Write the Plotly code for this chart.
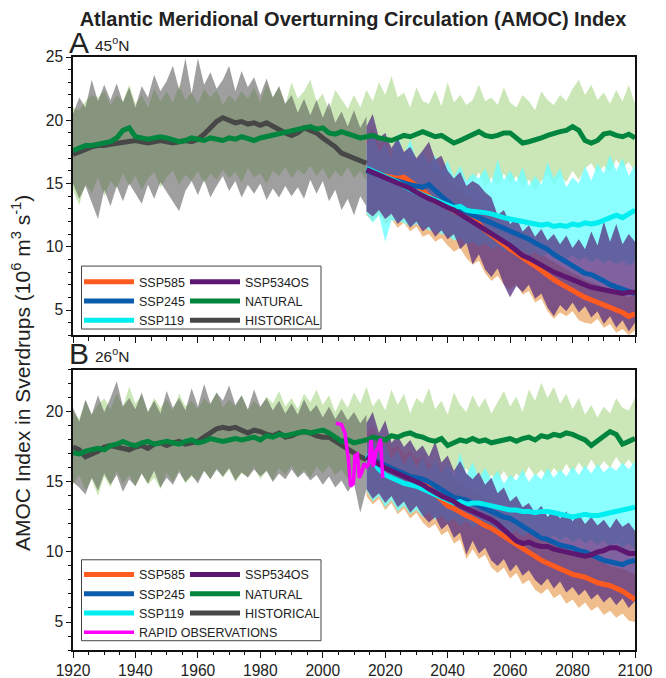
import plotly.graph_objects as go

# ---------------- years ----------------
nat_years = list(range(1920, 2101, 2))
hist_years = list(range(1920, 2015, 2))
ssp_years = list(range(2014, 2101, 2))

# ================= PANEL A (45N) =================
A_nat = [17.6, 17.8, 18.0, 18.0, 18.1, 18.1, 18.3, 18.6, 19.2, 19.4,
         18.7, 18.6, 18.5, 18.6, 18.7, 18.6, 18.4, 18.3, 18.4, 18.6,
         18.5, 18.4, 18.6, 18.5, 18.4, 18.6, 18.5, 18.7, 18.6, 18.4,
         18.6, 18.7, 18.8, 18.9, 19.1, 19.2, 19.3, 19.4, 19.5, 19.3,
         19.4, 19.0, 18.9, 19.1, 18.9, 18.7, 18.6, 18.7, 18.8, 18.6,
         18.5, 18.4, 18.6, 18.8, 18.7, 18.9, 19.1, 18.9, 18.7, 18.8,
         18.5, 18.2, 18.4, 18.6, 18.8, 19.1, 18.8, 18.7, 18.8, 19.0,
         19.0, 18.6, 18.2, 18.3, 18.4, 18.6, 18.8, 19.0, 19.1, 19.2,
         19.5, 19.2, 18.4, 18.2, 18.4, 18.9, 19.0, 18.8, 18.7, 18.9,
         18.6]
A_nat_hi = [21.0, 20.8, 21.5, 22.0, 21.8, 22.3, 21.2, 22.0, 21.5, 22.8,
            21.3, 22.0, 21.0, 22.5, 21.5, 22.3, 21.4, 22.8, 21.6, 22.2,
            21.3, 22.5, 21.8, 22.4, 21.2, 22.0, 21.5, 22.3, 21.7, 22.6,
            21.4, 22.9, 21.8, 22.6, 21.2, 23.0, 21.7, 22.3, 23.2, 21.5,
            22.1, 20.8, 22.4, 21.6, 20.9, 22.0, 21.0, 22.4, 21.5, 23.0,
            22.0, 23.5, 21.8, 22.2, 21.0, 22.6, 21.5, 21.3, 22.4, 21.1,
            23.0, 21.4, 22.0, 21.2, 21.6, 22.8, 21.5, 21.8, 21.2, 22.6,
            21.4, 21.0, 22.0, 21.5, 20.8, 22.3, 21.6, 21.2, 22.0, 21.5,
            22.5, 23.2, 22.0, 22.8, 21.6, 22.2, 21.3, 22.4, 21.5, 22.8,
            21.3]
A_nat_lo = [14.5, 13.3, 15.0, 14.2, 15.5, 14.0, 15.2, 14.6, 15.8, 14.8,
            15.6, 14.5, 15.4, 15.9, 14.7, 15.5, 16.0, 14.9, 15.7, 15.2,
            16.0, 15.0, 15.8, 15.3, 16.1, 15.4, 15.9, 15.1, 16.2, 15.5,
            15.8, 15.0, 16.0, 15.6, 16.3, 15.4, 16.1, 15.7, 16.4, 15.6,
            16.2, 15.3, 16.0, 15.5, 16.3, 15.4, 16.0, 15.2, 16.5, 15.6,
            16.2, 15.4, 16.4, 15.3, 15.9, 15.0, 16.1, 15.4, 15.8, 14.8,
            15.7, 14.9, 15.6, 15.2, 15.0, 15.9, 14.6, 15.5, 14.8, 15.8,
            15.0, 15.6, 14.7, 15.3, 14.4, 15.2, 15.7, 14.9, 15.6, 15.1,
            16.0, 15.3, 16.2, 16.6, 15.8, 16.4, 15.9, 16.9, 16.2, 16.7,
            15.9]
A_hist = [17.3, 17.5, 17.8, 17.9, 18.0, 18.0, 18.1, 18.2, 18.3, 18.3,
          18.4, 18.3, 18.2, 18.3, 18.4, 18.3, 18.2, 18.3, 18.4, 18.3,
          18.5, 18.9, 19.4, 19.9, 20.2, 20.0, 19.8, 19.9, 19.7, 19.8,
          19.6, 19.8, 19.5, 19.2, 19.0, 18.8, 19.0, 19.4, 19.2, 19.0,
          18.6, 18.3, 17.9, 17.4, 17.2, 16.9, 16.7, 16.6]
A_hist_hi = [20.5, 21.8, 21.0, 23.2, 21.5, 22.8, 21.6, 22.9, 21.4, 22.6,
             21.0, 22.7, 21.8, 23.6, 22.3, 23.1, 24.3, 22.4, 24.9, 22.1,
             24.9, 22.8, 23.8, 22.5, 23.2, 24.3, 22.3, 23.9, 22.6, 23.4,
             22.0, 23.3, 21.8, 22.7, 21.3, 22.0, 20.6, 21.7, 20.4, 21.6,
             20.2, 21.4, 19.8, 20.7, 19.5, 20.8, 19.4, 20.3]
A_hist_lo = [15.0, 13.8, 14.8, 13.5, 12.2, 14.5, 13.2, 14.8, 13.6, 15.0,
             14.2, 13.4, 14.9, 13.8, 15.1, 14.3, 13.6, 12.8, 14.4, 15.2,
             14.1, 15.3, 13.9, 14.8, 15.6, 14.4, 15.2, 13.9, 14.9, 14.2,
             15.0, 13.7, 14.6, 13.9, 14.8, 14.0, 14.7, 13.8, 15.3, 14.2,
             15.2, 13.6, 14.5, 12.9, 13.8, 12.5, 14.0, 13.2]
A_585 = [16.0, 15.9, 15.7, 15.6, 15.5, 15.4, 15.5, 15.2, 14.8, 14.5,
         14.0, 13.6, 13.4, 13.1, 12.9, 12.6, 12.4, 12.1, 11.8, 11.3,
         10.9, 10.5, 10.1, 9.8, 9.5, 9.1, 8.8, 8.5, 8.1, 7.7,
         7.4, 7.1, 6.8, 6.6, 6.3, 6.0, 5.8, 5.6, 5.4, 5.3,
         5.0, 4.8, 4.5, 4.7]
A_245 = [16.0, 15.8, 15.7, 15.5, 15.3, 15.2, 15.0, 14.9, 14.8, 14.7,
         14.9, 14.4, 14.0, 13.6, 13.2, 13.0, 12.7, 12.5, 12.3, 12.1,
         11.9, 11.7, 11.5, 11.3, 11.1, 10.8, 10.6, 10.3, 10.1, 9.8,
         9.4, 9.1, 8.8, 8.4, 8.1, 7.9, 7.8, 7.6, 7.3, 7.0,
         6.8, 6.6, 6.4, 6.3]
A_534 = [16.1, 15.9, 15.7, 15.5, 15.3, 15.1, 14.8, 14.6, 14.3, 14.0,
         13.8, 13.6, 13.3, 13.1, 12.9, 12.6, 12.3, 12.0, 11.7, 11.4,
         11.1, 10.8, 10.4, 10.1, 9.7, 9.3, 9.1, 8.8, 8.5, 8.3,
         8.0, 7.8, 7.6, 7.3, 7.1, 7.0, 6.8, 6.7, 6.6, 6.5,
         6.4, 6.3, 6.4, 6.4]
A_119 = [16.2, 16.0, 15.8, 15.6, 15.3, 15.1, 14.8, 14.5, 14.3, 14.1,
         13.9, 13.7, 13.5, 13.3, 13.1, 13.2, 12.9, 12.8, 12.7, 12.7,
         12.6, 12.4, 12.3, 12.2, 12.1, 11.9, 11.9, 11.8, 11.7, 11.8,
         11.6, 11.7, 11.6, 11.8, 11.7, 11.9, 11.8, 11.9, 12.1, 12.3,
         12.5, 12.3, 12.6, 12.9]
A_pur_hi = [19.5, 20.5, 18.6, 19.0, 17.8, 18.6, 17.5, 17.9, 17.0, 17.6,
            18.3, 16.9, 17.2, 16.0, 15.4, 15.9, 14.8, 15.2, 14.9, 14.3,
            13.9, 12.5, 12.9, 11.8, 12.3, 11.2, 11.7, 10.8, 11.4, 10.5,
            11.0, 10.2, 10.9, 9.9, 10.6, 9.8, 11.2, 10.1, 12.0, 10.4,
            11.8, 10.2, 11.0, 10.4]
A_pur_lo = [12.8, 12.4, 12.9, 12.2, 12.6, 11.8, 12.3, 11.5, 12.0, 11.2,
            11.6, 10.8, 11.3, 10.6, 11.0, 9.8, 10.3, 8.6, 9.4, 8.2,
            7.6, 8.3, 7.0, 6.0, 6.9, 6.4, 7.0, 5.9, 6.3, 5.2,
            4.5, 5.4, 4.9, 5.6, 4.8, 5.3, 4.4, 4.9, 3.9, 4.5,
            3.6, 4.2, 3.3, 4.0]
A_tan_hi = [18.5, 19.5, 18.0, 18.4, 17.2, 17.8, 16.9, 17.2, 16.5, 16.8,
            16.2, 16.0, 15.7, 15.2, 14.8, 14.5, 14.1, 13.8, 13.5, 13.0,
            12.6, 12.1, 11.7, 11.3, 10.9, 10.5, 10.2, 9.8, 9.5, 9.1,
            8.8, 8.5, 8.2, 7.9, 7.7, 7.4, 7.2, 7.0, 6.8, 6.6,
            6.4, 6.2, 6.0, 6.2]
A_tan_lo = [12.5, 12.0, 12.6, 11.8, 12.2, 11.5, 11.9, 11.2, 11.6, 10.8,
            11.0, 10.4, 10.7, 10.1, 9.6, 9.9, 9.1, 8.6, 8.9, 7.9,
            7.3, 7.7, 7.0, 6.6, 7.1, 6.2, 6.5, 5.6, 5.9, 4.9,
            4.3, 4.8, 4.5, 4.9, 4.2, 4.0, 3.9, 4.3, 3.6, 3.9,
            3.2, 3.5, 3.0, 3.4]
A_cyan_hi = [18.0, 19.2, 17.5, 18.2, 17.0, 19.0, 17.2, 18.5, 16.8, 17.5,
             16.5, 17.2, 16.0, 16.8, 15.5, 16.4, 15.2, 15.8, 15.4, 16.2,
             15.0, 16.9, 15.3, 16.0, 15.1, 16.3, 14.8, 15.6, 14.9, 16.7,
             15.4, 16.2, 14.7, 15.5, 15.0, 16.4, 15.2, 16.6, 15.8, 17.3,
             16.0, 17.0, 15.6, 16.5]
A_cyan_lo = [12.6, 11.9, 12.5, 10.4, 12.1, 12.0, 11.9, 11.6, 11.8, 11.5,
             11.3, 11.2, 11.0, 10.9, 10.5, 10.7, 10.2, 10.4, 10.0, 10.3,
             9.8, 10.1, 9.6, 9.9, 9.4, 9.7, 9.3, 9.6, 9.2, 9.5,
             9.1, 9.4, 9.0, 9.3, 8.9, 9.2, 8.8, 9.1, 8.7, 9.0,
             8.6, 8.9, 8.5, 8.8]

# ================= PANEL B (26N) =================
B_nat = [17.1, 17.0, 17.2, 17.3, 17.4, 17.3, 17.6, 17.7, 17.9, 17.7,
         17.6, 17.8, 17.9, 17.7, 17.8, 17.9, 17.8, 17.7, 17.9, 18.0,
         17.8, 17.9, 18.1, 18.0, 17.9, 18.0, 18.1, 18.0, 18.1, 18.2,
         18.0, 18.3, 18.2, 18.4, 18.3, 18.4, 18.5, 18.6, 18.5, 18.6,
         18.7, 18.5, 18.2, 17.9, 18.0, 17.8, 17.9, 18.0, 18.2, 18.1,
         18.0, 18.3, 18.2, 18.4, 18.5, 18.3, 18.2, 18.0, 17.9, 18.1,
         17.6, 17.8, 18.0, 17.9, 18.1, 17.9, 18.0, 17.8, 17.9, 18.0,
         18.1, 17.9, 18.1, 18.2, 18.0, 18.3, 18.2, 18.4, 18.3, 18.5,
         18.4, 18.2, 18.0, 17.6, 17.9, 18.2, 18.6, 18.4, 17.7, 17.9,
         18.1]
B_nat_hi = [20.0, 19.5, 20.8, 19.8, 20.5, 21.0, 20.2, 21.3, 20.4, 21.8,
            20.6, 21.2, 20.0, 21.0, 20.3, 20.9, 20.1, 21.3, 20.4, 20.8,
            20.2, 21.0, 20.5, 21.4, 20.3, 20.9, 20.4, 21.2, 20.1, 20.8,
            20.3, 21.1, 20.6, 21.5, 20.4, 21.0, 20.2, 21.3, 20.7, 21.6,
            20.5, 21.2, 20.0, 21.0, 20.3, 21.4, 20.6, 21.8, 20.4, 21.0,
            20.1, 21.6, 20.5, 21.3, 19.9, 21.0, 20.6, 21.7, 20.2, 20.8,
            19.8, 21.4, 20.5, 20.0, 21.2, 20.3, 21.0, 19.9, 20.7, 21.5,
            20.4, 21.1, 20.0, 21.6, 20.8, 22.1, 21.0, 21.8, 20.6, 21.3,
            20.2, 21.0, 19.8, 20.5, 19.6, 20.4, 19.9, 21.0, 20.3, 20.1,
            21.0]
B_nat_lo = [14.8, 15.5, 14.4, 15.2, 14.0, 15.4, 14.6, 15.8, 14.9, 15.5,
            14.7, 15.6, 14.8, 15.3, 14.5, 15.7, 15.0, 15.9, 14.9, 15.4,
            15.1, 15.8, 15.2, 16.0, 15.3, 15.9, 15.0, 15.6, 15.4, 16.1,
            15.2, 15.8, 15.1, 16.0, 15.5, 16.2, 15.4, 15.9, 15.3, 16.1,
            15.6, 16.2, 15.5, 15.9, 15.2, 15.8, 15.4, 16.0, 15.6, 16.2,
            15.5, 16.0, 15.3, 15.8, 15.1, 15.9, 15.4, 16.1, 15.2, 15.7,
            15.0, 15.8, 15.3, 16.0, 15.2, 15.6, 14.9, 15.5, 15.1, 15.8,
            15.0, 15.6, 15.2, 16.1, 15.4, 15.9, 15.3, 16.0, 15.5, 16.3,
            15.6, 16.4, 15.8, 16.6, 15.9, 16.5, 16.0, 16.8, 16.1, 16.6,
            16.0]
B_hist = [17.5, 17.3, 16.8, 17.0, 17.2, 17.5, 17.6, 17.5, 17.4, 17.3,
          17.5, 17.6, 17.4, 17.7, 17.8, 17.6, 17.8, 17.9, 17.7, 17.8,
          17.9, 18.2, 18.5, 18.8, 18.9, 18.8, 18.9, 18.7, 18.5, 18.7,
          18.6, 18.4, 18.3, 18.5, 18.2, 18.3, 18.5, 18.6, 18.5, 18.3,
          18.2, 18.2, 17.9, 17.6, 17.3, 17.0, 16.8, 16.6]
B_hist_hi = [20.3, 19.3, 20.9, 19.8, 21.2, 20.0, 21.0, 22.2, 20.4, 21.0,
             20.2, 21.4, 20.0, 20.8, 19.9, 21.5, 20.3, 21.0, 20.1, 21.7,
             20.4, 22.0, 20.6, 21.4, 20.8, 21.9, 20.5, 21.2, 20.2, 21.6,
             20.4, 21.0, 20.1, 20.8, 19.9, 20.6, 19.8, 20.9, 20.0, 20.5,
             19.6, 20.4, 19.5, 20.2, 19.4, 20.0, 19.2, 19.8]
B_hist_lo = [15.0, 14.6, 14.1, 15.3, 14.4, 15.6, 14.8, 15.5, 14.3, 15.2,
             14.7, 15.6, 14.9, 15.8, 14.6, 15.3, 14.8, 15.7, 15.0, 15.5,
             14.9, 15.8, 15.2, 15.9, 15.4, 16.0, 15.1, 15.7, 15.3, 15.9,
             15.4, 15.8, 15.0, 15.6, 15.2, 15.9, 15.3, 15.7, 15.1, 15.5,
             14.8, 15.4, 14.6, 15.1, 14.3, 14.9, 12.8, 14.5]
B_585 = [16.8, 16.6, 16.4, 16.2, 16.0, 15.8, 15.6, 15.4, 15.1, 14.9,
         14.6, 14.2, 13.8, 13.3, 13.1, 12.8, 12.6, 12.4, 12.1, 11.9,
         11.7, 11.4, 11.1, 10.8, 10.5, 10.3, 10.0, 9.7, 9.4, 9.2,
         9.0, 8.8, 8.6, 8.4, 8.3, 8.2, 8.0, 7.8, 7.7, 7.6,
         7.4, 7.2, 6.9, 6.6]
B_245 = [16.8, 16.6, 16.4, 16.2, 16.0, 15.8, 15.6, 15.4, 15.3, 15.2,
         15.0, 14.7, 14.4, 14.1, 13.9, 13.8, 13.7, 13.5, 13.3, 13.1,
         12.9, 12.7, 12.5, 12.4, 12.1, 11.8, 11.5, 11.2, 11.0, 10.9,
         10.7, 10.5, 10.4, 10.3, 10.1, 10.0, 9.8, 9.6, 9.4, 9.3,
         9.2, 9.1, 9.3, 9.4]
B_534 = [16.8, 16.5, 16.3, 16.0, 15.8, 15.6, 15.4, 15.2, 15.0, 14.8,
         14.5, 14.2, 14.0, 13.8, 13.6, 13.3, 13.1, 12.9, 12.7, 12.5,
         12.3, 12.0, 11.6, 11.2, 10.8, 10.6, 10.7, 10.5, 10.4, 10.4,
         10.2, 10.1, 10.0, 9.9, 9.8, 9.7, 9.8, 10.0, 10.1, 10.3,
         10.3, 10.1, 9.9, 9.9]
B_119 = [16.9, 16.5, 15.9, 15.5, 15.3, 15.1, 14.9, 14.8, 14.7, 14.5,
         14.3, 14.1, 13.9, 13.7, 13.5, 13.6, 13.4, 13.5, 13.5, 13.4,
         13.3, 13.2, 13.1, 13.0, 13.0, 12.9, 12.9, 12.8, 12.9, 12.9,
         12.8, 12.7, 12.6, 12.5, 12.6, 12.7, 12.6, 12.6, 12.7, 12.8,
         12.9, 13.0, 13.1, 13.2]
B_pur_hi = [19.2, 20.0, 18.5, 19.4, 17.8, 18.3, 17.5, 18.0, 17.2, 17.6,
            16.8, 17.9, 16.4, 16.9, 15.8, 16.5, 15.6, 15.2, 15.7, 14.8,
            15.3, 14.2, 14.6, 13.6, 14.0, 13.2, 13.5, 12.8, 13.3, 12.5,
            13.0, 12.4, 12.9, 12.2, 12.7, 12.0, 12.5, 11.9, 12.3, 11.7,
            12.4, 11.8, 12.1, 11.5]
B_pur_lo = [14.5, 13.8, 14.2, 13.5, 14.0, 13.2, 13.6, 12.8, 13.3, 12.6,
            12.1, 12.5, 11.6, 12.0, 11.0, 11.4, 9.8, 10.8, 9.9, 10.3,
            9.4, 9.0, 9.5, 8.6, 9.1, 8.3, 8.7, 8.0, 7.6, 8.1,
            7.4, 7.9, 7.1, 7.5, 6.9, 7.3, 6.6, 7.0, 6.4, 6.8,
            6.2, 6.7, 6.0, 6.5]
B_tan_hi = [18.5, 19.0, 18.0, 18.3, 17.4, 17.6, 17.0, 17.2, 16.6, 16.8,
            16.2, 16.4, 15.8, 15.6, 15.2, 15.0, 14.6, 14.3, 14.0, 13.7,
            13.4, 13.0, 12.7, 12.4, 12.1, 11.8, 11.5, 11.2, 11.0, 10.8,
            10.6, 10.4, 10.2, 10.0, 9.9, 9.8, 9.6, 9.4, 9.2, 9.0,
            8.9, 8.8, 8.6, 8.4]
B_tan_lo = [14.0, 13.4, 13.8, 13.0, 13.5, 12.7, 13.1, 12.4, 12.8, 12.1,
            11.7, 12.0, 11.2, 11.5, 10.6, 10.9, 9.5, 10.2, 9.5, 9.8,
            8.9, 8.5, 8.9, 8.1, 8.5, 7.7, 8.0, 7.3, 7.0, 7.4,
            6.7, 7.0, 6.3, 6.6, 6.0, 6.4, 5.8, 6.1, 5.5, 5.8,
            5.3, 5.6, 5.1, 5.0]
B_cyan_hi = [17.6, 18.2, 17.0, 17.8, 16.6, 17.3, 16.2, 17.0, 16.0, 16.8,
             15.8, 16.6, 15.6, 16.3, 15.4, 17.1, 15.5, 16.4, 15.3, 16.0,
             15.2, 15.8, 14.9, 15.5, 15.1, 15.9, 15.0, 15.6, 15.2, 16.0,
             15.3, 15.9, 15.4, 16.1, 15.5, 16.2, 15.6, 16.3, 15.7, 16.1,
             15.8, 16.4, 15.9, 16.5]
B_cyan_lo = [14.4, 13.6, 14.0, 13.2, 13.7, 12.9, 13.3, 12.7, 13.0, 12.5,
             12.8, 12.3, 12.6, 12.1, 12.4, 11.9, 12.2, 11.7, 12.0, 11.6,
             11.8, 11.4, 11.7, 11.3, 11.5, 11.1, 11.4, 11.0, 11.3, 10.9,
             11.2, 10.8, 11.1, 10.7, 11.0, 10.6, 10.9, 10.5, 10.8, 10.4,
             10.7, 10.3, 10.6, 10.2]

rapid_years = [2004.2, 2006.0, 2007.1, 2008.2, 2008.9, 2009.8, 2010.3, 2011.1, 2011.7, 2012.5,
               2013.2, 2014.1, 2014.9, 2015.4, 2016.2, 2017.0, 2017.9, 2018.5, 2019.2]
rapid_vals = [19.2, 19.1, 18.5, 16.6, 14.7, 14.9, 16.9, 17.0, 15.3, 15.7,
              16.3, 16.1, 16.4, 18.0, 16.1, 17.2, 17.5, 18.1, 15.3]

# ---------------- styles ----------------
FONT = "Liberation Sans, Arial, sans-serif"
C_NATB = "#CBE6B7"
C_HISTB = "rgba(80,80,80,0.55)"
C_TANB = "#F0BE8C"
C_CYANB = "rgba(110,255,255,0.8)"
C_PURB = "rgba(85,45,130,0.75)"
C585 = "#FF5A1F"
C245 = "#0B5CAD"
C119 = "#00EEF0"
C534 = "#5E1770"
CNAT = "#00853E"
CHIST = "#474747"
CRAPID = "#FF00FF"
LW = 5

# The page body has an 8px margin, so the figure is drawn 8px in from the
# window edge; all positions below are given in window pixels and shifted.
OFF = 8
W, H = 650, 670
X_L, X_R = 73, 635          # plot area left/right (window px)
Y_T, Y_B = 56.7, 650.3      # plot area top/bottom (window px)
PW, PH = X_R - X_L, Y_B - Y_T

fig = go.Figure()


def band(x, lo, hi, color, xa, ya):
    fig.add_trace(go.Scatter(x=x + x[::-1], y=hi + lo[::-1], fill="toself",
                             fillcolor=color, line=dict(width=0), mode="lines",
                             hoverinfo="skip", showlegend=False, xaxis=xa, yaxis=ya))


def line(x, y, color, name, xa, ya, leg, rank, show, width=LW):
    fig.add_trace(go.Scatter(x=x, y=y, mode="lines", name=name,
                             line=dict(color=color, width=width),
                             legend=leg, legendrank=rank, showlegend=show,
                             xaxis=xa, yaxis=ya))


panels = [
    ("x2", "y2", "legend", "legend2", dict(nat=A_nat, nat_hi=A_nat_hi, nat_lo=A_nat_lo,
        hist=A_hist, hist_hi=A_hist_hi, hist_lo=A_hist_lo, s585=A_585, s245=A_245,
        s534=A_534, s119=A_119, pur_hi=A_pur_hi, pur_lo=A_pur_lo, tan_hi=A_tan_hi,
        tan_lo=A_tan_lo, cy_hi=A_cyan_hi, cy_lo=A_cyan_lo)),
    ("x", "y", "legend3", "legend4", dict(nat=B_nat, nat_hi=B_nat_hi, nat_lo=B_nat_lo,
        hist=B_hist, hist_hi=B_hist_hi, hist_lo=B_hist_lo, s585=B_585, s245=B_245,
        s534=B_534, s119=B_119, pur_hi=B_pur_hi, pur_lo=B_pur_lo, tan_hi=B_tan_hi,
        tan_lo=B_tan_lo, cy_hi=B_cyan_hi, cy_lo=B_cyan_lo)),
]

for xa, ya, l1, l2, d in panels:
    band(nat_years, d["nat_lo"], d["nat_hi"], C_NATB, xa, ya)
    band(hist_years, d["hist_lo"], d["hist_hi"], C_HISTB, xa, ya)
    band(ssp_years, d["tan_lo"], d["tan_hi"], C_TANB, xa, ya)
    band(ssp_years, d["cy_lo"], d["cy_hi"], C_CYANB, xa, ya)
    band(ssp_years, d["pur_lo"], d["pur_hi"], C_PURB, xa, ya)
    line(hist_years, d["hist"], CHIST, "HISTORICAL", xa, ya, l2, 3, True)
    line(nat_years, d["nat"], CNAT, "NATURAL", xa, ya, l2, 2, True)
    line(ssp_years, d["s585"], C585, "SSP585", xa, ya, l1, 1, True)
    line(ssp_years, d["s245"], C245, "SSP245", xa, ya, l1, 2, True)
    line(ssp_years, d["s119"], C119, "SSP119", xa, ya, l1, 3, True)
    line(ssp_years, d["s534"], C534, "SSP534OS", xa, ya, l2, 1, True)

line(rapid_years, rapid_vals, CRAPID, "RAPID OBSERVATIONS", "x", "y", "legend3", 4, True, width=3.5)

axis_common = dict(showline=True, linecolor="#111", linewidth=1.5, mirror=True,
                   ticks="outside", tickcolor="#111", showgrid=False, zeroline=False,
                   automargin=False,
                   tickfont=dict(family=FONT, size=15.6, color="#222"))


def py(y_ref):
    """window pixel row -> paper fraction"""
    return (Y_B - y_ref) / PH


def px(x_ref):
    return (x_ref - X_L) / PW


fig.update_layout(
    width=W, height=H,
    margin=dict(l=X_L - OFF, r=W - (X_R - OFF), t=Y_T - OFF, b=H - (Y_B - OFF),
                autoexpand=False),
    paper_bgcolor="white", plot_bgcolor="white",
    font=dict(family=FONT, color="#222"),
    title=dict(text="<b>Atlantic Meridional Overturning Circulation (AMOC) Index</b>",
               x=(353 - OFF) / W, xanchor="center", y=1 - (18.5 - OFF) / H, yanchor="middle",
               font=dict(family=FONT, size=20, color="#222")),
    xaxis=dict(range=[1920, 2100], dtick=20, ticklen=6,
               minor=dict(dtick=5, ticklen=3.5, ticks="outside", tickcolor="#111"),
               anchor="y", **axis_common),
    yaxis=dict(range=[3, 23], dtick=5, tick0=0, ticklen=5, domain=[0, py(370)],
               minor=dict(dtick=1, ticklen=3, ticks="outside", tickcolor="#111"),
               anchor="x", **axis_common),
    xaxis2=dict(range=[1920, 2100], dtick=20, ticklen=6, showticklabels=False,
                minor=dict(dtick=5, ticklen=3.5, ticks="outside", tickcolor="#111"),
                anchor="y2", matches="x", **axis_common),
    yaxis2=dict(range=[3, 25], dtick=5, tick0=0, ticklen=5, domain=[py(335.3), 1],
                minor=dict(dtick=1, ticklen=3, ticks="outside", tickcolor="#111"),
                anchor="x2", **axis_common),
    showlegend=True,
)

leg_common = dict(bgcolor="rgba(0,0,0,0)", borderwidth=0, itemwidth=50,
                  font=dict(family=FONT, size=12.5, color="#222"),
                  xanchor="left", yanchor="top", traceorder="normal",
                  tracegroupgap=0)
fig.update_layout(
    legend=dict(x=px(79), y=py(267), **leg_common),
    legend2=dict(x=px(185), y=py(267), **leg_common),
    legend3=dict(x=px(79), y=py(560), **leg_common),
    legend4=dict(x=px(185), y=py(560), **leg_common),
)

# legend frames
fig.add_shape(type="rect", xref="paper", yref="paper", x0=px(81.5), x1=px(321),
              y0=py(329), y1=py(266), line=dict(color="#444", width=1), fillcolor="rgba(0,0,0,0)")
fig.add_shape(type="rect", xref="paper", yref="paper", x0=px(81.5), x1=px(321),
              y0=py(641), y1=py(560), line=dict(color="#444", width=1), fillcolor="rgba(0,0,0,0)")

ann = []
ann.append(dict(text="A", x=px(67), y=py(42), xref="paper", yref="paper",
                xanchor="left", yanchor="middle", showarrow=False,
                font=dict(family=FONT, size=30, color="#222")))
ann.append(dict(text="45<sup>o</sup>N", x=px(93), y=py(44), xref="paper", yref="paper",
                xanchor="left", yanchor="middle", showarrow=False,
                font=dict(family=FONT, size=15.5, color="#222")))
ann.append(dict(text="B", x=px(67), y=py(353), xref="paper", yref="paper",
                xanchor="left", yanchor="middle", showarrow=False,
                font=dict(family=FONT, size=30, color="#222")))
ann.append(dict(text="26<sup>o</sup>N", x=px(93), y=py(355), xref="paper", yref="paper",
                xanchor="left", yanchor="middle", showarrow=False,
                font=dict(family=FONT, size=15.5, color="#222")))
ann.append(dict(text="AMOC Index in Sverdrups (10<sup>6</sup> m<sup>3</sup> s<sup>-1</sup>)",
                x=px(21), y=py(373), xref="paper", yref="paper",
                xanchor="center", yanchor="middle", textangle=-90, showarrow=False,
                font=dict(family=FONT, size=21, color="#222")))
fig.update_layout(annotations=ann)

fig.write_html("out.html")
